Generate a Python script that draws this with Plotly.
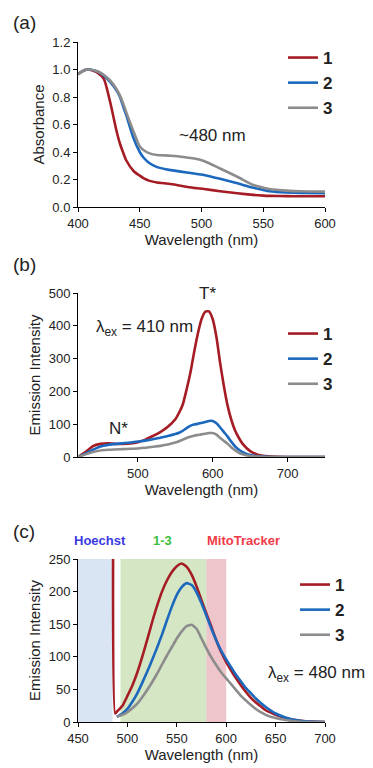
import plotly.graph_objects as go

# ---------------- data ----------------
series_names = ["1", "2", "3"]
colors = ["#a51c24", "#1c68bd", "#8c8c8c"]

# (a) absorbance
abs_wl = [400, 405, 409, 416, 421, 426, 431, 434, 437, 439, 445, 450, 453, 458, 464, 475,
          493, 502, 515, 529, 542, 550, 555, 569, 580, 600]
abs_1 = [0.965, 0.995, 1.0, 0.975, 0.93, 0.765, 0.56, 0.46, 0.385, 0.34, 0.262, 0.228, 0.21,
         0.19, 0.178, 0.167, 0.14, 0.131, 0.115, 0.1, 0.088, 0.083, 0.081, 0.079, 0.078, 0.078]
abs_2 = [0.965, 0.995, 1.0, 0.985, 0.955, 0.91, 0.85, 0.8, 0.72, 0.67, 0.50, 0.40, 0.36,
         0.318, 0.29, 0.268, 0.245, 0.233, 0.205, 0.172, 0.14, 0.124, 0.115, 0.105, 0.102,
         0.1]
abs_3 = [0.965, 0.995, 1.0, 0.985, 0.96, 0.92, 0.86, 0.81, 0.742, 0.69, 0.548, 0.44, 0.415,
         0.39, 0.378, 0.373, 0.354, 0.335, 0.28, 0.22, 0.16, 0.14, 0.131, 0.119, 0.114,
         0.112]

# (b) emission, excitation 410 nm
em1_wl = [420, 430, 440, 450, 460, 470, 480, 490, 500, 510, 520, 530, 540, 550, 555, 560,
          565, 570, 575, 580, 585, 590, 595, 600, 605, 610, 615, 620, 625, 630, 635, 640,
          650, 660, 670, 680, 700, 750]
em1_1 = [0, 15, 33, 40, 42, 40, 40, 41, 45, 53, 64, 76, 92, 115, 135, 160, 205, 255, 318,
         375, 420, 443, 444, 420, 365, 285, 215, 155, 112, 80, 58, 40, 18, 7, 3, 1, 0, 0]
em1_2 = [0, 10, 22, 32, 37, 40, 42, 44, 47, 50, 54, 59, 64, 70, 74, 80, 88, 95, 99, 101,
         104, 107, 110, 110, 103, 90, 76, 62, 46, 32, 22, 15, 6, 2, 1, 0, 0, 0]
em1_3 = [0, 8, 15, 20, 22, 23, 24, 25, 26, 28, 31, 34, 38, 44, 48, 53, 58, 62, 65, 67,
         69, 71, 73, 73, 68, 58, 49, 40, 29, 20, 13, 8, 3, 1, 0, 0, 0, 0]

# (c) emission, excitation 480 nm
em2_wl_1 = [485.5, 487.6, 490, 495, 500, 505, 510, 515, 520, 525, 530, 535, 540, 545, 550,
            555, 560, 565, 570, 575, 580, 585, 590, 595, 600, 605, 610, 615, 620, 625, 630,
            635, 640, 650, 660, 670, 680, 700]
em2_1 = [252, 13, 17, 25, 40, 56, 76, 100, 126, 153, 178, 200, 217, 230, 239,
         243, 238, 226, 208, 187, 166, 146, 125, 107, 92, 79, 67, 56, 46, 37, 30,
         24, 18, 11, 6, 3, 1, 0]
em2_wl_23 = [489.3, 495, 500, 505, 510, 515, 520, 525, 530, 535, 540, 545, 550, 555, 560,
             565, 570, 575, 580, 585, 590, 595, 600, 605, 610, 615, 620, 625, 630, 635, 640,
             650, 660, 670, 680, 700]
em2_2 = [8, 13, 20, 31, 44, 60, 77, 95, 114, 134, 156, 177, 195, 207, 213,
         210, 199, 182, 163, 143, 125, 109, 96, 84, 72, 62, 52, 44, 36, 29, 23,
         13, 7, 3, 1, 0]
em2_3 = [8, 11, 15, 21, 28, 38, 49, 61, 74, 88, 102, 115, 128, 139, 147,
         149, 143, 128, 113, 99, 87, 76, 67, 58, 49, 40, 33, 26, 20, 15, 11,
         6, 3, 1, 0, 0]

band_labels = ["Hoechst", "1-3", "MitoTracker"]
band_start = [450, 493, 580]
band_end = [485, 580, 600]
band_label_x = [472, 536, 617]
band_fill = ["rgba(186,208,234,0.55)", "rgba(178,210,150,0.55)", "rgba(222,150,160,0.55)"]
band_text_color = ["#3a3ae0", "#3cc03c", "#f03a48"]

FONT = "Liberation Sans, Arial, sans-serif"

fig = go.Figure()

panels = [
    (abs_wl, [abs_1, abs_2, abs_3], "x", "y", "legend"),
    (em1_wl, [em1_1, em1_2, em1_3], "x2", "y2", "legend2"),
]
for wl, ys, xa, ya, lg in panels:
    for name, y, c in zip(series_names, ys, colors):
        fig.add_trace(go.Scatter(x=wl, y=y, mode="lines", name=name, xaxis=xa, yaxis=ya,
                                 legend=lg, line=dict(color=c, width=2.6, shape="spline",
                                                      smoothing=0.6)))

for name, wl, y, c in zip(series_names, [em2_wl_1, em2_wl_23, em2_wl_23],
                          [em2_1, em2_2, em2_3], colors):
    fig.add_trace(go.Scatter(x=wl, y=y, mode="lines", name=name, xaxis="x3", yaxis="y3",
                             legend="legend3",
                             line=dict(color=c, width=2.6, shape="spline", smoothing=0.5)))

W, H = 373, 768
xdom = [78 / W, 325 / W]


def ydom(top, bot):
    return [1 - bot / H, 1 - top / H]


axis_common = dict(showline=True, linecolor="black", linewidth=1, ticks="outside",
                   ticklen=4, tickcolor="black", showgrid=False, zeroline=False,
                   automargin=False,
                   tickfont=dict(family=FONT, size=13, color="#222"),
                   title_font=dict(family=FONT, size=15, color="#222"))

fig.update_layout(
    width=W, height=H, margin=dict(l=0, r=0, t=0, b=0, autoexpand=False),
    paper_bgcolor="white", plot_bgcolor="white",
    font=dict(family=FONT, color="#222"),
    xaxis=dict(domain=xdom, anchor="y", range=[400, 600], dtick=50,
               title=dict(text="Wavelength (nm)", standoff=4), **axis_common),
    yaxis=dict(domain=ydom(42, 207), anchor="x", range=[0, 1.2], dtick=0.2, tickformat=".1f",
               title=dict(text="Absorbance", standoff=4), **axis_common),
    xaxis2=dict(domain=xdom, anchor="y2", range=[420, 750], tickvals=[500, 600, 700],
                title=dict(text="Wavelength (nm)", standoff=4), **axis_common),
    yaxis2=dict(domain=ydom(293, 457), anchor="x2", range=[0, 500], dtick=100,
                title=dict(text="Emission Intensity", standoff=4), **axis_common),
    xaxis3=dict(domain=xdom, anchor="y3", range=[450, 700], dtick=50,
                title=dict(text="Wavelength (nm)", standoff=4), **axis_common),
    yaxis3=dict(domain=ydom(559, 722), anchor="x3", range=[0, 250], dtick=50,
                title=dict(text="Emission Intensity", standoff=4), **axis_common),
    showlegend=True,
)

leg_common = dict(font=dict(family=FONT, size=17, color="#222", weight="bold"),
                  bgcolor="rgba(0,0,0,0)", itemwidth=30, tracegroupgap=0,
                  xanchor="left", yanchor="top", itemclick=False)
fig.update_layout(
    legend=dict(x=283 / W, y=1 - 40 / H, **leg_common),
    legend2=dict(x=283 / W, y=1 - 316 / H, **leg_common),
    legend3=dict(x=295 / W, y=1 - 567 / H, **leg_common),
)

# shaded bands in panel (c)
for s, e, lx, f, t, tc in zip(band_start, band_end, band_label_x, band_fill, band_labels,
                              band_text_color):
    fig.add_shape(type="rect", xref="x3", yref="y3", x0=s, x1=e, y0=0, y1=250,
                  fillcolor=f, line=dict(width=0), layer="below")
    fig.add_annotation(xref="x3", yref="paper", x=lx, y=1 - 550 / H, text=t,
                       showarrow=False, font=dict(family=FONT, size=13, color=tc,
                                                  weight="bold"))

annotations = [
    ("(a)", 24, 23, 19),
    ("(b)", 24, 265, 19),
    ("(c)", 24, 531, 19),
    ("~480 nm", 212, 135, 17),
    ("T*", 207, 293, 17),
    ("N*", 118, 428, 17),
    ("λ<sub>ex</sub> = 410 nm", 144, 328, 17),
    ("λ<sub>ex</sub> = 480 nm", 316, 674, 17),
]
for t, px, py, sz in annotations:
    fig.add_annotation(xref="paper", yref="paper", x=px / W, y=1 - py / H, text=t,
                       showarrow=False, xanchor="center", yanchor="middle",
                       font=dict(family=FONT, size=sz, color="#222"))

fig.write_html("out.html", config={"displayModeBar": False},
               post_script="document.body.style.margin='0';"
                           "document.body.style.overflow='hidden';")
